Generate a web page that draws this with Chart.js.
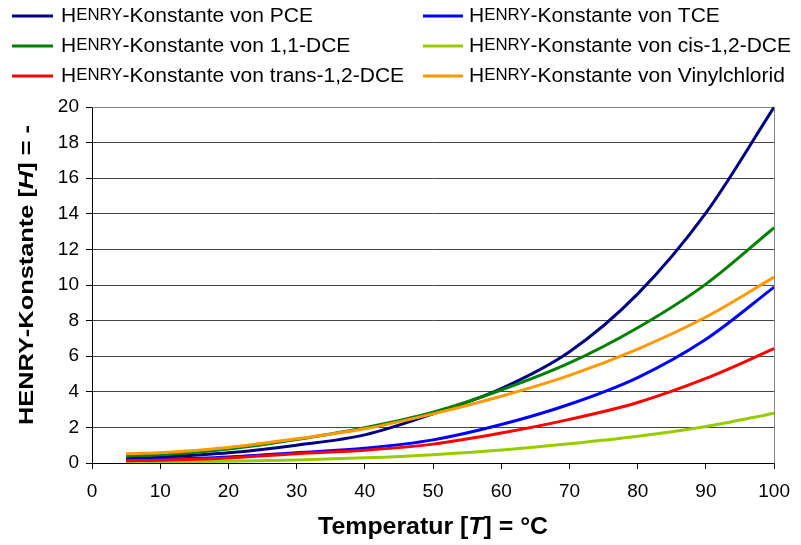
<!DOCTYPE html>
<html>
<head>
<meta charset="utf-8">
<script src="https://cdn.jsdelivr.net/npm/chart.js@4/dist/chart.umd.min.js"></script>
<style>
  html, body { margin: 0; padding: 0; background: #fff; }
  #wrap { width: 801px; height: 545px; }
</style>
</head>
<body>
<div id="wrap"><canvas id="c" width="801" height="545"></canvas></div>
<script>
// Temperatures in °C
const temperatures = [5, 10, 20, 30, 40, 50, 60, 70, 80, 90, 100];

// Dimensionless Henry constants per compound
const henryPCE   = [0.24, 0.33, 0.57, 1.00, 1.58, 2.76, 4.18, 6.25, 9.50, 14.05, 20.00];
const henryTCE   = [0.16, 0.20, 0.34, 0.58, 0.83, 1.30, 2.16, 3.30, 4.80, 6.95, 9.88];
const henry11DCE = [0.40, 0.47, 0.79, 1.32, 1.98, 2.85, 4.10, 5.62, 7.60, 10.05, 13.22];
const henryCis   = [0.05, 0.06, 0.10, 0.17, 0.29, 0.47, 0.73, 1.08, 1.50, 2.05, 2.80];
const henryTrans = [0.13, 0.15, 0.28, 0.52, 0.72, 1.06, 1.68, 2.45, 3.40, 4.75, 6.42];
const henryVC    = [0.52, 0.57, 0.87, 1.36, 1.92, 2.76, 3.75, 4.92, 6.40, 8.20, 10.44];

const compounds = ['PCE', 'TCE', '1,1-DCE', 'cis-1,2-DCE', 'trans-1,2-DCE', 'Vinylchlorid'];
const seriesValues = [henryPCE, henryTCE, henry11DCE, henryCis, henryTrans, henryVC];
const seriesColors = ['#000080', '#0000FF', '#008000', '#99CC00', '#FF0000', '#FF9900'];

const yTicks = [0, 2, 4, 6, 8, 10, 12, 14, 16, 18, 20];
const xTicks = [0, 10, 20, 30, 40, 50, 60, 70, 80, 90, 100];

const FONT = '"Liberation Sans", Arial, sans-serif';

// Text made of pieces with their own size / style, drawn left to right
function richWidth(ctx, parts) {
  let w = 0;
  for (const p of parts) {
    ctx.font = `${p.style || ''} ${p.size}px ${FONT}`;
    w += ctx.measureText(p.t).width;
  }
  return w;
}
function drawRich(ctx, parts, x, y) {
  ctx.textBaseline = 'middle';
  ctx.textAlign = 'left';
  for (const p of parts) {
    ctx.font = `${p.style || ''} ${p.size}px ${FONT}`;
    ctx.fillText(p.t, x, y);
    x += ctx.measureText(p.t).width;
  }
}
// Draws rich text centred at (0,0) of the current transform, stretched to a given length
function drawRichStretched(ctx, parts, length) {
  const w = richWidth(ctx, parts);
  ctx.save();
  ctx.scale(length / w, 1);
  drawRich(ctx, parts, -w / 2, 0);
  ctx.restore();
}
// "HENRY" in small capitals
function henry(size, style) {
  return [
    { t: 'H', size: size, style: style },
    { t: 'ENRY', size: Math.round(size * 0.78), style: style }
  ];
}

const decorations = {
  id: 'decorations',
  beforeDatasetsDraw(chart) {
    const { ctx, chartArea: a } = chart;
    ctx.save();
    // plot-area frame on top and right
    ctx.strokeStyle = '#888888';
    ctx.lineWidth = 1;
    ctx.beginPath();
    ctx.moveTo(Math.round(a.left) + 0.5, Math.round(a.top) + 0.5);
    ctx.lineTo(Math.round(a.right) + 0.5, Math.round(a.top) + 0.5);
    ctx.lineTo(Math.round(a.right) + 0.5, Math.round(a.bottom) + 0.5);
    ctx.stroke();
    ctx.restore();
  },
  afterDraw(chart) {
    const { ctx, chartArea: a } = chart;
    ctx.save();
    ctx.fillStyle = '#000';

    // legend, two columns
    const legendSize = 20;
    const legendParts = name => [...henry(legendSize, ''), { t: '-Konstante von ' + name, size: legendSize }];
    const stretch = 252 / richWidth(ctx, legendParts(compounds[0]));
    compounds.forEach((name, i) => {
      const col = i % 2, row = Math.floor(i / 2);
      const y = 16 + row * 30;
      const lx0 = col ? 423 : 12, lx1 = col ? 463 : 53, tx = col ? 469 : 61;
      ctx.strokeStyle = seriesColors[i];
      ctx.lineWidth = 3;
      ctx.beginPath();
      ctx.moveTo(lx0, y);
      ctx.lineTo(lx1, y);
      ctx.stroke();
      ctx.save();
      ctx.translate(tx, y);
      ctx.scale(stretch, 1);
      drawRich(ctx, legendParts(name), 0, 0);
      ctx.restore();
    });

    // x axis title
    const xt = [
      { t: 'Temperatur [', size: 24, style: 'bold' },
      { t: 'T', size: 24, style: 'italic bold' },
      { t: '] = °C', size: 24, style: 'bold' }
    ];
    ctx.save();
    ctx.translate((a.left + a.right) / 2, 527);
    drawRichStretched(ctx, xt, 230);
    ctx.restore();

    // y axis title, rotated
    const yt = [
      { t: 'HENRY', size: 21, style: 'bold' },
      { t: '-Konstante [', size: 21, style: 'bold' },
      { t: 'H', size: 21, style: 'italic bold' },
      { t: '] = -', size: 21, style: 'bold' }
    ];
    ctx.save();
    ctx.translate(27, 275);
    ctx.rotate(-Math.PI / 2);
    drawRichStretched(ctx, yt, 300);
    ctx.restore();

    ctx.restore();
  }
};

const datasets = compounds.map((name, i) => ({
  label: 'Henry-Konstante von ' + name,
  data: temperatures.map((t, k) => ({ x: t, y: seriesValues[i][k] })),
  borderColor: seriesColors[i],
  backgroundColor: seriesColors[i],
  borderWidth: 3,
  pointRadius: 0,
  fill: false,
  cubicInterpolationMode: 'monotone',
  order: compounds.length - i
}));

new Chart(document.getElementById('c'), {
  type: 'line',
  data: { datasets },
  options: {
    responsive: false,
    animation: false,
    devicePixelRatio: 1,
    layout: { padding: { top: 107, right: 12, left: 0, bottom: 0 } },
    plugins: { legend: { display: false }, tooltip: { enabled: false }, title: { display: false } },
    scales: {
      x: {
        type: 'linear',
        min: 0, max: 100,
        afterBuildTicks(s) { s.ticks = xTicks.map(v => ({ value: v })); },
        afterFit(s) { s.height = 82; },
        grid: { drawOnChartArea: false, drawTicks: true, tickLength: 6, color: '#000' },
        border: { color: '#000', width: 1 },
        ticks: { color: '#000', font: { family: FONT, size: 19 }, padding: 11, maxRotation: 0 }
      },
      y: {
        type: 'linear',
        min: 0, max: 20,
        afterBuildTicks(s) { s.ticks = yTicks.map(v => ({ value: v })); },
        afterFit(s) { s.width = 92; },
        grid: { color: '#444', tickLength: 6, tickColor: '#000' },
        border: { color: '#000', width: 1 },
        ticks: { color: '#000', font: { family: FONT, size: 19 }, padding: 7 }
      }
    }
  },
  plugins: [decorations]
});
</script>
</body>
</html>
